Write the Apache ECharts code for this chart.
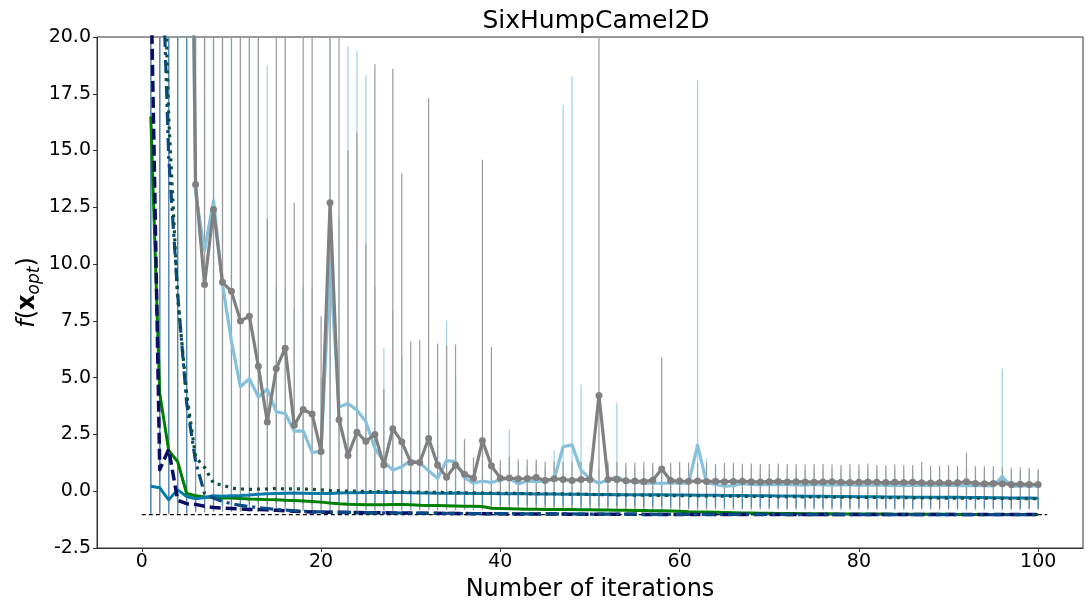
<!DOCTYPE html>
<html>
<head>
<meta charset="utf-8">
<script src="https://cdn.jsdelivr.net/npm/echarts@6/dist/echarts.min.js"></script>
<style>html,body{margin:0;padding:0;background:#fff}#c{width:1086px;height:607px}</style>
</head>
<body>
<div id="c"></div>
<script>
// ---------------- data ----------------
const iterations = Array.from({length: 100}, (_, i) => i + 1);
const xTicks = [0, 20, 40, 60, 80, 100];
const yRange = [-2.5, 20];
const optimumValue = -1.0316;
const optimumSpan = [0, 101];

// grey method (mean, with markers)
const greyMean = [60, 58, 55, 52, 50,
  13.5, 9.1, 12.4, 9.2, 8.8, 7.5, 7.7, 5.5, 3.05, 5.4,
  6.3, 2.9, 3.6, 3.4, 1.75, 12.7, 3.15, 1.57, 2.6, 2.2,
  2.5, 1.15, 2.75, 2.18, 1.27, 1.27, 2.32, 1.15, 0.62, 1.15,
  0.75, 0.57, 2.22, 1.12, 0.57, 0.58, 0.55, 0.56, 0.6, 0.47,
  0.55, 0.52, 0.47, 0.52, 0.52, 4.22, 0.52, 0.52, 0.46, 0.45,
  0.43, 0.48, 0.98, 0.47, 0.45, 0.44, 0.45, 0.43, 0.44, 0.42,
  0.43, 0.44, 0.42, 0.41, 0.42, 0.43, 0.41, 0.42, 0.41, 0.40,
  0.41, 0.42, 0.40, 0.38, 0.40, 0.41, 0.39, 0.38, 0.39, 0.38,
  0.40, 0.37, 0.36, 0.37, 0.36, 0.37, 0.42, 0.34, 0.33, 0.34,
  0.33, 0.30, 0.31, 0.30, 0.30];
const greyHigh = [30, 30, 30, 30, 30,
  30, 30, 30, 30, 30, 30, 30, 30, 12, 30,
  30, 12.7, 30, 30, 7.7, 30, 30, 15, 15.8, 10.9,
  18.8, 4.5, 18.6, 14.0, 6.6, 6.65, 17.3, 6.5, 6.4, 6.45,
  2.3, 1.5, 14.6, 6.35, 1.37, 1.5, 1.4, 1.4, 1.4, 1.3,
  1.3, 1.3, 1.3, 1.3, 1.3, 30, 1.3, 1.3, 1.25, 1.25,
  1.3, 1.25, 5.9, 1.25, 1.3, 1.25, 1.25, 1.25, 1.2, 1.25,
  1.25, 1.22, 1.22, 1.2, 1.2, 1.22, 1.2, 1.2, 1.18, 1.2,
  1.2, 1.18, 1.15, 1.2, 1.18, 1.22, 1.15, 1.15, 1.18, 1.15,
  1.15, 1.3, 1.12, 1.12, 1.15, 1.12, 1.7, 1.1, 1.1, 1.1,
  1.05, 1.05, 1.05, 1.02, 1.0];
const greyLow = [-0.95, -0.95, -0.95, -0.95, -0.95,
  -0.9, -0.92, -0.9, -0.88, -0.9, -0.9, -0.88, -0.9, -0.88, -0.9,
  -0.86, -0.88, -0.86, -0.88, -0.85, -0.86, -0.85, -0.86, -0.84, -0.85,
  -0.85, -0.84, -0.85, -0.84, -0.83, -0.84, -0.83, -0.84, -0.82, -0.83,
  -0.82, -0.83, -0.82, -0.81, -0.82, -0.8, -0.81, -0.8, -0.81, -0.8,
  -0.8, -0.79, -0.8, -0.79, -0.8, -0.8, -0.79, -0.8, -0.78, -0.79,
  -0.78, -0.79, -0.8, -0.78, -0.79, -0.78, -0.8, -0.78, -0.79, -0.78,
  -0.79, -0.78, -0.8, -0.78, -0.79, -0.78, -0.8, -0.78, -0.79, -0.78,
  -0.8, -0.78, -0.79, -0.8, -0.78, -0.79, -0.8, -0.78, -0.79, -0.8,
  -0.8, -0.78, -0.79, -0.8, -0.78, -0.8, -0.84, -0.79, -0.8, -0.78,
  -0.8, -0.79, -0.8, -0.78, -0.79];

// light blue method
const lightMean = [55, 52, 50, 48, 45,
  13.1, 10.6, 12.8, 9.1, 6.6, 4.6, 4.95, 4.15, 4.5, 3.5,
  3.42, 2.65, 2.66, 1.71, 1.74, 10.0, 3.71, 3.86, 3.57, 3.06,
  1.89, 1.3, 0.93, 1.08, 1.35, 1.25, 0.9, 0.57, 1.35, 1.3,
  0.6, 0.35, 0.45, 0.38, 0.5, 0.58, 0.32, 0.45, 0.42, 0.45,
  0.52, 1.96, 2.04, 0.93, 0.55, 0.35, 0.5, 0.64, 0.42, 0.42,
  0.36, 0.36, 0.35, 0.36, 0.35, 0.36, 2.03, 0.38, 0.3, 0.22,
  0.25, 0.33, 0.3, 0.28, 0.3, 0.29, 0.3, 0.28, 0.27, 0.3,
  0.28, 0.27, 0.29, 0.28, 0.26, 0.27, 0.28, 0.26, 0.27, 0.25,
  0.27, 0.26, 0.25, 0.27, 0.26, 0.25, 0.26, 0.24, 0.24, 0.23,
  0.65, 0.2, 0.24, 0.22, 0.24];
const lightHigh = [30, 30, 30, 30, 30,
  30, 30, 20, 20, 20, 20, 20, 20, 18.75, 9,
  9, 8, 9, 9, 5, 30, 12, 19.6, 19.4, 18.3,
  9, 6.3, 8, 6, 4, 4, 3.8, 3.5, 7.5, 5,
  2.0, 1.2, 1.3, 1.4, 1.2, 2.72, 1.2, 1.1, 1.2, 1.0,
  1.8, 17.0, 18.25, 4.7, 1.2, 1.0, 1.2, 3.9, 1.0, 1.0,
  1.0, 1.0, 1.0, 1.0, 1.0, 1.0, 18.1, 1.45, 1.0, 0.95,
  0.95, 0.95, 0.95, 0.95, 0.95, 0.95, 0.95, 0.95, 0.95, 0.95,
  0.95, 0.95, 0.95, 0.95, 0.95, 0.95, 0.95, 0.95, 0.95, 0.95,
  0.95, 0.95, 0.95, 0.95, 0.95, 0.95, 0.95, 0.95, 0.95, 0.95,
  5.4, 0.9, 0.9, 0.9, 0.9];
const lightLow = [-1.0, -1.0, -1.0, -1.0, -1.0,
  -0.95, -0.95, -0.92, -0.92, -0.9, -0.9, -0.9, -0.9, -0.9, -0.9,
  -0.88, -0.88, -0.88, -0.88, -0.87, -0.87, -0.86, -0.86, -0.86, -0.86,
  -0.85, -0.85, -0.85, -0.85, -0.85, -0.84, -0.84, -0.84, -0.84, -0.84,
  -0.83, -0.83, -0.83, -0.83, -0.83, -0.82, -0.82, -0.82, -0.82, -0.82,
  -0.82, -0.85, -0.85, -0.82, -0.82, -0.82, -0.82, -0.82, -0.82, -0.82,
  -0.82, -0.82, -0.82, -0.82, -0.82, -0.82, -0.85, -0.82, -0.82, -0.82,
  -0.82, -0.82, -0.82, -0.82, -0.82, -0.82, -0.82, -0.82, -0.82, -0.82,
  -0.82, -0.82, -0.82, -0.82, -0.82, -0.82, -0.82, -0.82, -0.82, -0.82,
  -0.82, -0.82, -0.82, -0.82, -0.82, -0.82, -0.82, -0.82, -0.82, -0.82,
  -0.85, -0.82, -0.82, -0.82, -0.82];

// teal method
const tealMean = [0.22, 0.15, -0.38, 0.06, -0.23,
  -0.33, -0.28, -0.2, -0.22, -0.2, -0.19, -0.17, -0.13, -0.11, -0.1,
  -0.09, -0.08, -0.09, -0.1, -0.1, -0.1, -0.08, -0.07, -0.07, -0.06,
  -0.06, -0.05, -0.06, -0.06, -0.07, -0.08, -0.08, -0.09, -0.09, -0.08,
  -0.09, -0.1, -0.1, -0.1, -0.11, -0.11, -0.1, -0.11, -0.12, -0.12,
  -0.12, -0.13, -0.13, -0.13, -0.14, -0.14, -0.14, -0.15, -0.15, -0.15,
  -0.16, -0.16, -0.16, -0.17, -0.17, -0.17, -0.18, -0.18, -0.18, -0.19,
  -0.19, -0.19, -0.2, -0.2, -0.2, -0.21, -0.21, -0.21, -0.22, -0.22,
  -0.22, -0.23, -0.23, -0.23, -0.24, -0.24, -0.24, -0.25, -0.25, -0.25,
  -0.26, -0.26, -0.26, -0.27, -0.27, -0.27, -0.28, -0.28, -0.28, -0.29,
  -0.29, -0.3, -0.3, -0.3, -0.31];
const tealBarTop = [30, 30, 30, 30, 30];
const tealLow = [-1.0, -1.0, -1.0, -1.0, -1.0,
  -0.9, -0.8, -0.7, -0.65, -0.6, -0.6, -0.58, -0.55, -0.55, -0.55,
  -0.55, -0.55, -0.55, -0.55, -0.55, -0.55, -0.55, -0.55, -0.55, -0.55,
  -0.56, -0.56, -0.56, -0.56, -0.56, -0.57, -0.57, -0.57, -0.57, -0.57,
  -0.58, -0.58, -0.58, -0.58, -0.58, -0.6, -0.6, -0.6, -0.6, -0.6,
  -0.62, -0.62, -0.62, -0.62, -0.62, -0.64, -0.64, -0.64, -0.64, -0.64,
  -0.66, -0.66, -0.66, -0.66, -0.66, -0.68, -0.68, -0.68, -0.68, -0.68,
  -0.7, -0.7, -0.7, -0.7, -0.7, -0.71, -0.71, -0.71, -0.71, -0.71,
  -0.72, -0.72, -0.72, -0.72, -0.72, -0.73, -0.73, -0.73, -0.73, -0.73,
  -0.74, -0.74, -0.74, -0.74, -0.74, -0.75, -0.75, -0.75, -0.75, -0.75,
  -0.76, -0.76, -0.76, -0.76, -0.76];

// green method
const greenMean = [16.5, 4.3, 1.8, 1.3, -0.1,
  -0.2, -0.25, -0.28, -0.3, -0.3, -0.32, -0.34, -0.35, -0.37, -0.38,
  -0.4, -0.41, -0.43, -0.45, -0.48, -0.52, -0.55, -0.57, -0.58, -0.6,
  -0.6, -0.6, -0.59, -0.59, -0.6, -0.62, -0.63, -0.63, -0.64, -0.65,
  -0.66, -0.66, -0.67, -0.75, -0.76, -0.77, -0.78, -0.79, -0.79, -0.8,
  -0.8, -0.81, -0.81, -0.82, -0.82, -0.83, -0.83, -0.84, -0.84, -0.85,
  -0.85, -0.86, -0.86, -0.87, -0.88, -0.9, -0.91, -0.92, -0.93, -0.94,
  -0.95, -0.96, -0.96, -0.97, -0.97, -0.98, -0.98, -0.98, -0.99, -0.99,
  -0.99, -0.99, -1.0, -1.0, -1.0, -1.0, -1.0, -1.0, -1.01, -1.01,
  -1.01, -1.01, -1.01, -1.01, -1.01, -1.02, -1.02, -1.02, -1.02, -1.02,
  -1.02, -1.02, -1.02, -1.02, -1.02];

// navy dashed method
const navyMean = [23, 0.95, 1.85, -0.4, -0.55,
  -0.58, -0.66, -0.72, -0.74, -0.76, -0.78, -0.8, -0.81, -0.82, -0.84,
  -0.86, -0.88, -0.9, -0.91, -0.92, -0.93, -0.93, -0.94, -0.94, -0.95,
  -0.95, -0.95, -0.96, -0.96, -0.96, -0.97, -0.97, -0.97, -0.98, -0.98,
  -0.98, -0.99, -0.99, -0.99, -0.99, -1.0, -1.0, -1.0, -1.0, -1.0,
  -1.0, -1.0, -1.01, -1.01, -1.01, -1.01, -1.01, -1.01, -1.01, -1.01,
  -1.02, -1.02, -1.02, -1.02, -1.02, -1.02, -1.02, -1.02, -1.02, -1.02,
  -1.02, -1.02, -1.02, -1.02, -1.02, -1.03, -1.03, -1.03, -1.03, -1.03,
  -1.03, -1.03, -1.03, -1.03, -1.03, -1.03, -1.03, -1.03, -1.03, -1.03,
  -1.03, -1.03, -1.03, -1.03, -1.03, -1.03, -1.03, -1.03, -1.03, -1.03,
  -1.03, -1.03, -1.03, -1.03, -1.03];

// dark blue dash-dot method
const dashDotMean = [35, 27, 14.7, 8.7, 3.9,
  1.3, -0.1, -0.3, -0.45, -0.55, -0.62, -0.68, -0.72, -0.76, -0.8,
  -0.83, -0.86, -0.88, -0.9, -0.91, -0.92, -0.93, -0.93, -0.94, -0.94,
  -0.95, -0.95, -0.95, -0.96, -0.96, -0.96, -0.97, -0.97, -0.97, -0.98,
  -0.98, -0.98, -0.98, -0.99, -0.99, -0.99, -0.99, -1.0, -1.0, -1.0,
  -1.0, -1.0, -1.0, -1.01, -1.01, -1.01, -1.01, -1.01, -1.01, -1.01,
  -1.02, -1.02, -1.02, -1.02, -1.02, -1.02, -1.02, -1.02, -1.02, -1.02,
  -1.02, -1.02, -1.02, -1.02, -1.02, -1.02, -1.03, -1.03, -1.03, -1.03,
  -1.03, -1.03, -1.03, -1.03, -1.03, -1.03, -1.03, -1.03, -1.03, -1.03,
  -1.03, -1.03, -1.03, -1.03, -1.03, -1.03, -1.03, -1.03, -1.03, -1.03,
  -1.03, -1.03, -1.03, -1.03, -1.03];

// dark green dotted method
const dottedMean = [40, 30, 16.5, 8.5, 4.3,
  1.5, 1.05, 0.35, 0.27, 0.13, 0.1, 0.08, 0.09, 0.1, 0.12,
  0.1, 0.1, 0.1, 0.08, 0.06, 0.03, 0.02, 0.0, 0.0, -0.01,
  -0.02, -0.02, -0.03, -0.03, -0.04, -0.04, -0.05, -0.05, -0.06, -0.06,
  -0.07, -0.07, -0.08, -0.08, -0.09, -0.09, -0.1, -0.1, -0.11, -0.11,
  -0.12, -0.12, -0.13, -0.13, -0.14, -0.15, -0.15, -0.16, -0.16, -0.17,
  -0.17, -0.18, -0.18, -0.19, -0.19, -0.2, -0.2, -0.21, -0.21, -0.22,
  -0.22, -0.22, -0.23, -0.23, -0.23, -0.24, -0.24, -0.24, -0.25, -0.25,
  -0.25, -0.26, -0.26, -0.26, -0.27, -0.27, -0.27, -0.28, -0.28, -0.28,
  -0.29, -0.29, -0.29, -0.3, -0.3, -0.3, -0.3, -0.31, -0.31, -0.31,
  -0.32, -0.32, -0.32, -0.33, -0.33];

// ---------------- chart ----------------
const FONT = 'DejaVu Sans';
const chart = echarts.init(document.getElementById('c'), null, {renderer: 'canvas'});

function pairs(vals) { return iterations.map((x, i) => [x, vals[i]]); }

function errorBars(name, low, high, color, width, opacity) {
  const data = iterations.map((x, i) => [x, low[i], high[i]]);
  return {
    type: 'custom', name: name, silent: true, animation: false,
    data: data,
    encode: {x: 0, y: [1, 2]},
    renderItem: function (params, api) {
      const x = api.value(0);
      const a = api.coord([x, api.value(1)]);
      const b = api.coord([x, api.value(2)]);
      const cs = params.coordSys;
      const top = cs.y, bot = cs.y + cs.height;
      const y1 = Math.min(Math.max(a[1], top), bot);
      const y2 = Math.min(Math.max(b[1], top), bot);
      return {type: 'line', shape: {x1: a[0], y1: y1, x2: b[0], y2: y2},
              style: {stroke: color, lineWidth: width, opacity: opacity}};
    }
  };
}

function line(name, vals, color, width, type, extra) {
  return Object.assign({
    type: 'line', name: name, data: pairs(vals), showSymbol: false, symbol: 'none',
    clip: true, animation: false,
    lineStyle: {color: color, width: width, type: type, cap: 'butt', join: 'round'},
    itemStyle: {color: color}
  }, extra || {});
}

const tealHigh = tealMean.map((v, i) => (i < tealBarTop.length ? tealBarTop[i] : v));

const option = {
  backgroundColor: '#fff',
  animation: false,
  title: {
    text: 'SixHumpCamel2D', left: 591, top: 4, textAlign: 'center',
    textStyle: {fontFamily: FONT, fontSize: 25, fontWeight: 'normal', color: '#000'}
  },
  grid: {left: 97, right: 3, top: 37, bottom: 57, show: true, borderColor: '#333', borderWidth: 1, backgroundColor: 'transparent'},
  xAxis: {
    type: 'value', min: -5, max: 105,
    name: 'Number of iterations', nameLocation: 'middle', nameGap: 30, nameMoveOverlap: false,
    nameTextStyle: {fontFamily: FONT, fontSize: 24, color: '#000'},
    axisLine: {show: true, onZero: false, lineStyle: {color: '#333', width: 1}},
    axisTick: {show: true, customValues: xTicks, length: 4, lineStyle: {color: '#333'}},
    axisLabel: {customValues: xTicks, fontFamily: FONT, fontSize: 19, color: '#000', margin: 5},
    splitLine: {show: false}
  },
  yAxis: {
    type: 'value', min: yRange[0], max: yRange[1], interval: 2.5,
    name: '{i|f}{n|(}{b|x}{s|opt}{n|)}', nameLocation: 'middle', nameGap: 54, nameMoveOverlap: false,
    nameTextStyle: {
      fontFamily: FONT, fontSize: 24, color: '#000',
      rich: {
        i: {fontFamily: FONT, fontSize: 24, fontStyle: 'italic', color: '#000'},
        n: {fontFamily: FONT, fontSize: 24, color: '#000'},
        b: {fontFamily: FONT, fontSize: 24, fontWeight: 'bold', color: '#000'},
        s: {fontFamily: FONT, fontSize: 17, fontStyle: 'italic', color: '#000', padding: [13, 0, 0, 0]}
      }
    },
    axisLine: {show: true, onZero: false, lineStyle: {color: '#333', width: 1}},
    axisTick: {show: true, length: 4, lineStyle: {color: '#333'}},
    axisLabel: {fontFamily: FONT, fontSize: 19, color: '#000', margin: 6,
      formatter: v => v.toFixed(1)},
    splitLine: {show: false}
  },
  series: [
    line('optimum', [], '#000', 1.3, [4, 3], {
      data: [[optimumSpan[0], optimumValue], [optimumSpan[1], optimumValue]]
    }),
    errorBars('light blue bars', lightLow, lightHigh, '#a6d3e6', 1.3, 1),
    errorBars('grey bars', greyLow, greyHigh, '#9a9a9a', 1.2, 1),
    errorBars('teal bars', tealLow, tealHigh, '#3f86b8', 1.2, 0.8),
    line('light blue', lightMean, '#86c0da', 3.2, 'solid'),
    line('grey', greyMean, '#808080', 3.2, 'solid', {
      showSymbol: true, symbol: 'circle', symbolSize: 7
    }),
    line('green', greenMean, '#008000', 3, 'solid'),
    line('teal', tealMean, '#0a7aab', 3, 'solid'),
    line('navy', navyMean, '#0a0f64', 3.5, [11, 5]),
    line('dash-dot', dashDotMean, '#0c4a86', 3.2, [13, 5, 3, 5]),
    line('dotted', dottedMean, '#0b4f3c', 3.2, [3, 5])
  ]
};
chart.setOption(option);
</script>
</body>
</html>
